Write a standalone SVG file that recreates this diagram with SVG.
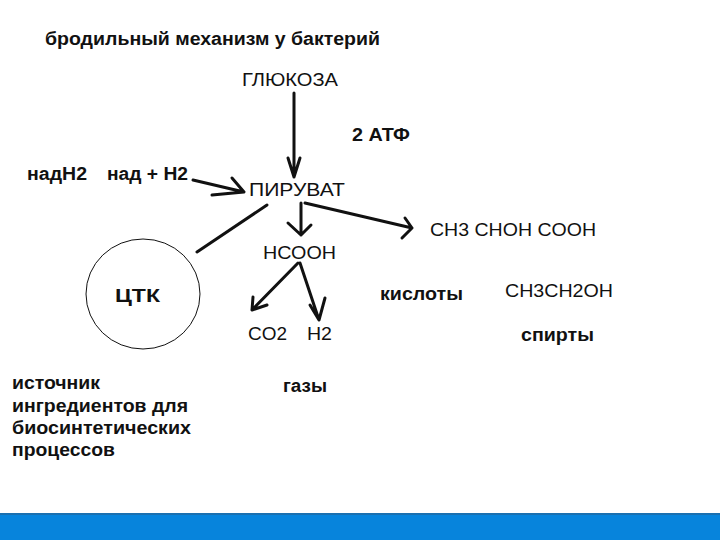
<svg xmlns="http://www.w3.org/2000/svg" width="720" height="540" viewBox="0 0 720 540">
<style>
text{font-family:"Liberation Sans",Arial,sans-serif;fill:#111;font-size:18px}
.b{font-weight:bold}
.l{stroke:#111;stroke-width:3;fill:none;stroke-linecap:round;stroke-linejoin:round}
</style>
<rect width="720" height="540" fill="#fff"/>
<text class="b" x="45" y="45" textLength="335" lengthAdjust="spacingAndGlyphs">бродильный механизм у бактерий</text>
<g id="glucose"><text x="242" y="86" textLength="96" lengthAdjust="spacingAndGlyphs">ГЛЮКОЗА</text></g>
<g id="atp"><text class="b" x="352" y="141" textLength="58" lengthAdjust="spacingAndGlyphs">2 АТФ</text></g>
<g id="nadh"><text class="b" x="27" y="180" textLength="60" lengthAdjust="spacingAndGlyphs">надН2</text><text class="b" x="107" y="180" textLength="81" lengthAdjust="spacingAndGlyphs">над + Н2</text></g>
<g id="pyruvate"><text x="249" y="196" textLength="96" lengthAdjust="spacingAndGlyphs">ПИРУВАТ</text></g>
<g id="lactate"><text x="430" y="236" textLength="166" lengthAdjust="spacingAndGlyphs">CH3 CHOH COOH</text></g>
<g id="formate"><text x="263" y="259" textLength="73" lengthAdjust="spacingAndGlyphs">НСООН</text></g>
<g id="tca"><ellipse cx="143" cy="294" rx="57" ry="55" fill="none" stroke="#111" stroke-width="1"/><text class="b" x="115" y="302" textLength="45" lengthAdjust="spacingAndGlyphs">ЦТК</text></g>
<g id="acids"><text class="b" x="380" y="300" textLength="83" lengthAdjust="spacingAndGlyphs">кислоты</text></g>
<g id="ethanol"><text x="505" y="297" textLength="108" lengthAdjust="spacingAndGlyphs">CH3CH2OH</text></g>
<g id="gases"><text x="248" y="340" textLength="39" lengthAdjust="spacingAndGlyphs">CO2</text><text x="307" y="340" textLength="25" lengthAdjust="spacingAndGlyphs">H2</text><text class="b" x="283" y="392" textLength="44" lengthAdjust="spacingAndGlyphs">газы</text></g>
<g id="alcohols"><text class="b" x="521" y="341" textLength="73" lengthAdjust="spacingAndGlyphs">спирты</text></g>
<g id="source"><text class="b" x="12" y="389" textLength="88" lengthAdjust="spacingAndGlyphs">источник</text><text class="b" x="12" y="412" textLength="176" lengthAdjust="spacingAndGlyphs">ингредиентов для</text><text class="b" x="12" y="434" textLength="179" lengthAdjust="spacingAndGlyphs">биосинтетических</text><text class="b" x="12" y="456" textLength="103" lengthAdjust="spacingAndGlyphs">процессов</text></g>
<g id="connectors">
<path class="l" d="M294 93V177M288 158L294 177L300 158"/>
<path class="l" d="M193 180L244 192M232 178L244 192L212 195"/>
<path class="l" d="M267 205L197 252"/>
<path class="l" d="M301 203V235M288 223L301 235L311 225"/>
<path class="l" d="M305 203L412 228M405 218L412 228L402 238"/>
<path class="l" d="M298 263L252 310M253 297L252 310L267 305"/>
<path class="l" d="M300 263L319 320M310 305L319 320L325 298"/>
</g>
<rect x="0" y="513" width="720" height="27" fill="#0784dc"/>
<rect x="0" y="513" width="720" height="2" fill="#1a70b0"/>
</svg>
